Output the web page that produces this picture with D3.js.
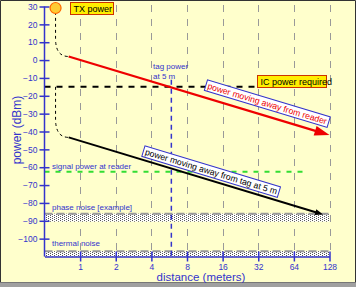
<!DOCTYPE html>
<html><head><meta charset="utf-8">
<script src="https://cdn.jsdelivr.net/npm/d3@7"></script>
<style>html,body{margin:0;padding:0;background:#fff}svg{display:block}</style>
</head><body>
<svg id="c" width="356" height="287"></svg>
<script>
// ---- data ----
const xTicks = [1, 2, 4, 8, 16, 32, 64, 128];
const yTicks = [30, 20, 10, 0, -10, -20, -30, -40, -50, -60, -70, -80, -90, -100];
const readerDist = [0.8, 128];        // power moving away from reader
const readerPower = [2, -42];
const tagDist = [0.8, 113];           // power moving away from tag at 5 m
const tagPower = [-43.3, -86.5];
const txPower = 30, txDist = 0.62;
const icPower = -15, icEnd = 102;
const signalPower = -62.5, signalEnd = 83;
const tagPos = 5.9, tagTop = -11;
const phaseNoise = [-86, -90.5];
const thermalNoise = [-107, -110];

const svg = d3.select('#c');
const W = 356, H = 287;
const blue = '#3333cc';
const font = 'Liberation Sans, Arial, sans-serif';

svg.append('rect').attr('width', W).attr('height', H).attr('fill', '#ffffcc');
svg.append('rect').attr('x', 0).attr('y', 282).attr('width', W).attr('height', 5).attr('fill', '#a0a0a0');
svg.append('path').attr('d', `M0.5,282 V0.5 H355.5 V282`).attr('fill', 'none').attr('stroke', '#333');
svg.append('line').attr('x1', 0).attr('x2', W).attr('y1', 282.5).attr('y2', 282.5).attr('stroke', '#777');

const x = d3.scaleLog().base(2).domain([0.5, 128]).range([44.5, 329.5]);
const y = d3.scaleLinear().domain([-110, 30]).range([256.5, 6.5]);

// pattern
const defs = svg.append('defs');
const pat = defs.append('pattern').attr('id', 'dots').attr('patternUnits', 'userSpaceOnUse').attr('width', 4).attr('height', 2);
pat.append('rect').attr('width', 4).attr('height', 2).attr('fill', '#fff');
pat.append('rect').attr('x', 0).attr('y', 0).attr('width', 1).attr('height', 1).attr('fill', '#555');
pat.append('rect').attr('x', 2).attr('y', 1).attr('width', 1).attr('height', 1).attr('fill', '#555');

// gridlines
svg.append('g').selectAll('line').data(xTicks).join('line')
  .attr('x1', d => Math.round(x(d)) + 0.5).attr('x2', d => Math.round(x(d)) + 0.5)
  .attr('y1', 5).attr('y2', y(-110))
  .attr('stroke', '#999').attr('stroke-dasharray', '7,7');

// noise bands
[phaseNoise, thermalNoise].forEach(b => {
  svg.append('rect').attr('x', x(0.5)).attr('width', x(128) - x(0.5))
    .attr('y', y(b[0])).attr('height', y(b[1]) - y(b[0])).attr('fill', 'url(#dots)');
  svg.append('line').attr('x1', x(0.5)).attr('x2', x(128)).attr('y1', y(b[0])).attr('y2', y(b[0]))
    .attr('stroke', '#999').attr('stroke-width', 2).attr('stroke-dasharray', '8,4');
});

// IC power line
svg.append('line').attr('x1', x(0.5)).attr('x2', x(icEnd)).attr('y1', y(icPower)).attr('y2', y(icPower))
  .attr('stroke', '#000').attr('stroke-width', 2).attr('stroke-dasharray', '6,6');
// signal power line
svg.append('line').attr('x1', x(0.5)).attr('x2', x(signalEnd)).attr('y1', y(signalPower)).attr('y2', y(signalPower))
  .attr('stroke', '#33dd33').attr('stroke-width', 2).attr('stroke-dasharray', '5,6');
// tag position line
svg.append('line').attr('x1', x(tagPos)).attr('x2', x(tagPos)).attr('y1', y(tagTop)).attr('y2', y(-110))
  .attr('stroke', blue).attr('stroke-width', 1.5).attr('stroke-dasharray', '5,4');

// connectors
function connector(y0, y1, d2, p2) {
  const cx = x(txDist), yy0 = y(y0), yy1 = y(y1), ex = x(d2), ey = y(p2);
  return `M${cx},${yy0} V${yy1} Q${cx},${ey} ${ex},${ey}`;
}
svg.append('path').attr('d', connector(txPower - 3, 12, readerDist[0], readerPower[0]))
  .attr('fill', 'none').attr('stroke', '#000').attr('stroke-dasharray', '3,3');
svg.append('path').attr('d', connector(icPower, -33, tagDist[0], tagPower[0]))
  .attr('fill', 'none').attr('stroke', '#000').attr('stroke-dasharray', '3,3');

// arrows
function arrowLine(ds, ps, color, w, hl, hw) {
  const x0 = x(ds[0]), y0 = y(ps[0]), x1 = x(ds[1]), y1 = y(ps[1]);
  const a = Math.atan2(y1 - y0, x1 - x0);
  const bx = x1 - hl * Math.cos(a), by = y1 - hl * Math.sin(a);
  svg.append('line').attr('x1', x0).attr('y1', y0).attr('x2', bx + 2 * Math.cos(a)).attr('y2', by + 2 * Math.sin(a))
    .attr('stroke', color).attr('stroke-width', w);
  const px = -Math.sin(a) * hw / 2, py = Math.cos(a) * hw / 2;
  svg.append('path').attr('d', `M${x1},${y1} L${bx + px},${by + py} L${bx - px},${by - py} Z`).attr('fill', color);
  return a;
}
const aR = arrowLine(readerDist, readerPower, '#ee0000', 2.2, 15, 10);
const aB = arrowLine(tagDist, tagPower, '#000', 2, 8, 6);

// axes
const yAxis = svg.append('g').attr('transform', `translate(${x(0.5)},0)`)
  .call(d3.axisLeft(y).tickValues(yTicks).tickSize(5).tickSizeOuter(0));
yAxis.selectAll('.tick line').attr('x1', -5).attr('x2', 5);
const xAxis = svg.append('g').attr('transform', `translate(0,${y(-110)})`)
  .call(d3.axisBottom(x).tickValues(xTicks).tickFormat(d3.format('d')).tickSizeOuter(0));
xAxis.selectAll('.tick line').attr('y1', -5).attr('y2', 5);
[yAxis, xAxis].forEach(g => {
  g.select('.domain').attr('stroke', blue).attr('stroke-width', 1.5);
  g.selectAll('.tick line').attr('stroke', blue).attr('stroke-width', 1.5);
  g.selectAll('text').attr('fill', blue).attr('font-family', font).attr('font-size', 8.5);
});
yAxis.select('.domain').attr('d', `M0,${y(30)}V${y(-110)}`);
yAxis.selectAll('text').attr('x', -7);
xAxis.selectAll('text').attr('y', 7);

svg.append('text').attr('x', 201).attr('y', 280.5).attr('text-anchor', 'middle')
  .attr('fill', blue).attr('font-family', font).attr('font-size', 11.5).text('distance (meters)');
svg.append('text').attr('transform', 'translate(21,130) rotate(-90)').attr('text-anchor', 'middle')
  .attr('fill', blue).attr('font-family', font).attr('font-size', 12).text('power (dBm)');

// TX marker and labels
svg.append('circle').attr('cx', x(txDist)).attr('cy', y(txPower) + 1.5).attr('r', 5.5)
  .attr('fill', '#ffcc33').attr('stroke', '#ff6600').attr('stroke-width', 1.2);
function boxLabel(tx, ty, txt, w) {
  svg.append('rect').attr('x', tx).attr('y', ty).attr('width', w).attr('height', 12)
    .attr('fill', '#ffee00').attr('stroke', '#cc3300').attr('stroke-width', 1);
  svg.append('text').attr('x', tx + 3).attr('y', ty + 9.5).attr('font-family', font).attr('font-size', 9)
    .attr('fill', '#000').text(txt);
}
boxLabel(70.5, 2.5, 'TX power', 43);
boxLabel(257.5, 75.5, 'IC power required', 69);

const lab = (tx, ty, t) => svg.append('text').attr('x', tx).attr('y', ty).attr('font-family', font)
  .attr('font-size', 8).attr('fill', blue).text(t);
lab(153, 69, 'tag power');
lab(153, 79, 'at 5 m');
lab(52, 169, 'signal power at reader');
lab(52, 210, 'phase noise [example]');
lab(52, 246, 'thermal noise');

// rotated line labels
function lineLabel(cx, cy, ang, txt, color) {
  const g = svg.append('g').attr('transform', `translate(${cx},${cy}) rotate(${ang * 180 / Math.PI})`);
  const t = g.append('text').attr('text-anchor', 'middle').attr('y', 3).attr('font-family', font)
    .attr('font-size', 8.7).attr('fill', color).text(txt);
  const bb = t.node().getBBox();
  g.insert('rect', 'text').attr('x', bb.x - 2).attr('y', bb.y - 0.5).attr('width', bb.width + 4).attr('height', bb.height + 1)
    .attr('fill', '#fff').attr('stroke', blue).attr('stroke-width', 1);
}
lineLabel(x(32) + 9, y(-30) - 10, aR, 'power moving away from reader', '#ee0000');
lineLabel(x(12.8), y(-67.5) - 9, aB, 'power moving away from tag at 5 m', '#000');
</script>
</body></html>
